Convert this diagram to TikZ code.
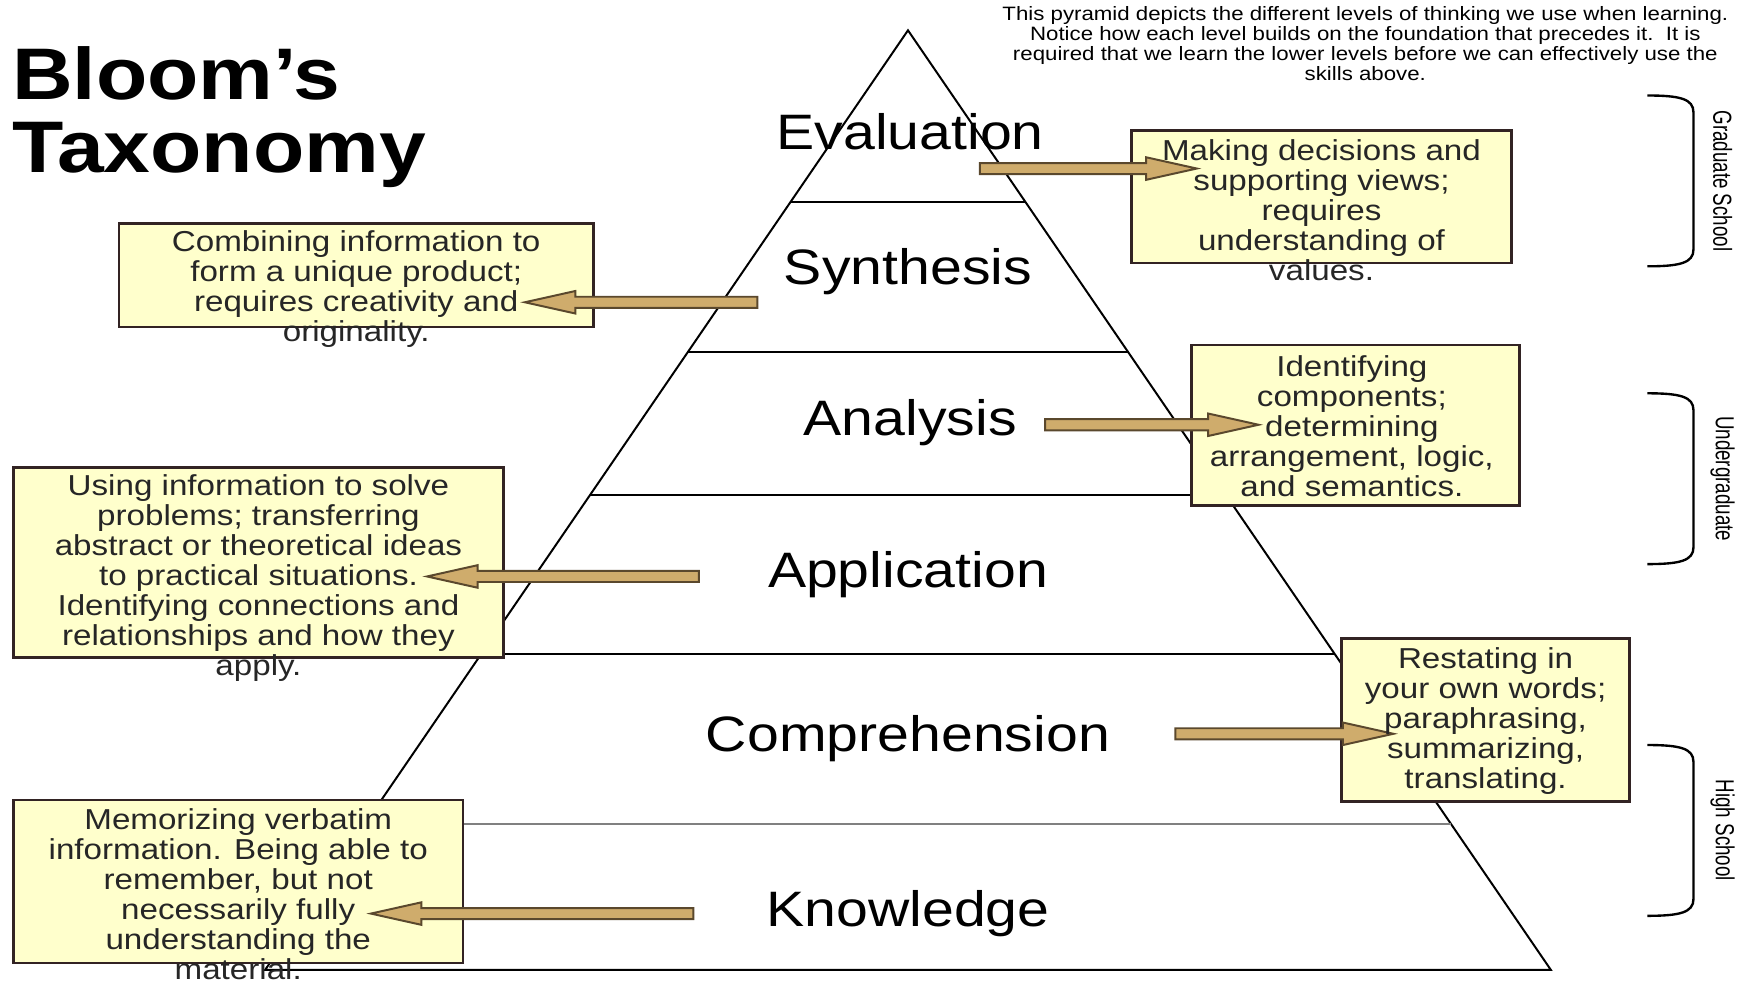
\documentclass[tikz,border=0pt]{standalone}
\usepackage{fontspec}
\setmainfont{Liberation Sans}[FakeStretch=1.15]
\newfontfamily\narrowfont{Liberation Sans}[FakeStretch=0.72]
\usetikzlibrary{positioning,calc}

\definecolor{boxyellow}{RGB}{255,255,204}
\definecolor{boxedge}{RGB}{50,35,35}
\definecolor{arrowtan}{RGB}{207,172,108}
\definecolor{arrowedge}{RGB}{90,72,45}

% block arrow between two named points (horizontal)
\newcommand{\blockarrow}[2]{%
  \filldraw[arrowbody] let \p1=(#1), \p2=(#2), \n1={ifthenelse(\x2>\x1,1,-1)} in
    (\x1,\y1+1.4pt) -- ({\x2-\n1*12.8pt},\y1+1.4pt) -- ({\x2-\n1*12.8pt},\y1+2.85pt)
    -- (\x2,\y1) -- ({\x2-\n1*12.8pt},\y1-2.85pt) -- ({\x2-\n1*12.8pt},\y1-1.4pt)
    -- (\x1,\y1-1.4pt) -- cycle;}

\begin{document}
\begin{tikzpicture}[scale=1.0,
    tier/.style={line width=0.5pt},
    level/.style={font=\fontsize{12.6}{14}\selectfont},
    infobox/.style={draw=boxedge, line width=0.7pt, fill=boxyellow, inner sep=0pt},
    infotext/.style={align=center, inner sep=0pt, text=black!85,
                     font=\fontsize{7.3}{7.6}\selectfont},
    arrowbody/.style={fill=arrowtan, draw=arrowedge, line width=0.5pt},
    bracket/.style={line width=0.6pt}]

    % --- Canvas ---
    \useasboundingbox (0,0) rectangle (15.68,8.75);

    % --- Title ---
    \node[anchor=north west, inner sep=0pt, align=left,
          font=\bfseries\fontsize{18.5}{18.5}\selectfont] (title) at (0.10, 8.34)
          {Bloom's\\Taxonomy};

    % --- Note at the top right ---
    \node[anchor=north, inner sep=0pt, align=center,
          font=\fontsize{4.9}{5.1}\selectfont] (note) at (12.15, 8.70)
          {This pyramid depicts the different levels of thinking we use when learning.\\
           Notice how each level builds on the foundation that precedes it.\ \ It is\\
           required that we learn the lower levels before we can effectively use the\\
           skills above.};

    % --- Pyramid ---
    \coordinate (apex) at (8.08, 8.48);
    \coordinate (bl) at (2.36, 0.12);
    \coordinate (br) at (13.80, 0.12);
    \draw[tier] (bl) -- (apex) -- (br) -- cycle;

    % level lines, as fractions down the sides
    \foreach \t/\c in {0.183/black, 0.342/black, 0.495/black, 0.664/black, 0.845/gray}
        \draw[tier, draw=\c] ($(apex)!\t!(bl)$) -- ($(apex)!\t!(br)$);

    % --- Level names ---
    \node[level] (evaluation) at (8.10, 7.58) {Evaluation};
    \node[level] (synthesis) at (8.08, 6.33) {Synthesis};
    \node[level] (analysis) at (8.10, 4.99) {Analysis};
    \node[level] (application) at (8.08, 3.64) {Application};
    \node[level] (comprehension) at (8.08, 2.18) {Comprehension};
    \node[level] (knowledge) at (8.08, 0.62) {Knowledge};

    % --- Boxes ---
    \node[infobox, minimum width=3.38cm, minimum height=1.18cm] (evalbox) at (11.76, 7.00) {};
    \node[infobox, minimum width=4.22cm, minimum height=0.92cm] (synthbox) at (3.17, 6.30) {};
    \node[infobox, minimum width=2.92cm, minimum height=1.43cm] (analbox) at (12.06, 4.965) {};
    \node[infobox, minimum width=4.36cm, minimum height=1.69cm] (applbox) at (2.30, 3.745) {};
    \node[infobox, minimum width=2.56cm, minimum height=1.45cm] (compbox) at (13.22, 2.345) {};
    \node[infobox, minimum width=4.00cm, minimum height=1.45cm] (knowbox) at (2.12, 0.905) {};

    % --- Arrows ---
    \coordinate (evalfrom) at (8.72, 7.25);   \coordinate (evalto) at (10.65, 7.25);
    \coordinate (synthfrom) at (6.74, 6.06);  \coordinate (synthto) at (4.67, 6.06);
    \coordinate (analfrom) at (9.30, 4.97);   \coordinate (analto) at (11.20, 4.97);
    \coordinate (applfrom) at (6.22, 3.62);   \coordinate (applto) at (3.80, 3.62);
    \coordinate (compfrom) at (10.46, 2.22);  \coordinate (compto) at (12.40, 2.22);
    \coordinate (knowfrom) at (6.17, 0.62);   \coordinate (knowto) at (3.30, 0.62);
    \blockarrow{evalfrom}{evalto}
    \blockarrow{synthfrom}{synthto}
    \blockarrow{analfrom}{analto}
    \blockarrow{applfrom}{applto}
    \blockarrow{compfrom}{compto}
    \blockarrow{knowfrom}{knowto}

    % --- Box texts (they run past the bottom edge) ---
    \node[infotext, below=0.09cm of evalbox.north] (evaltext)
        {Making decisions and\\supporting views;\\requires\\understanding of\\values.};
    \node[infotext, below=0.07cm of synthbox.north] (synthtext)
        {Combining information to\\form a unique product;\\requires creativity and\\originality.};
    \node[infotext, below=0.10cm of analbox.north, xshift=-0.03cm] (analtext)
        {Identifying\\components;\\determining\\arrangement, logic,\\and semantics.};
    \node[infotext, below=0.07cm of applbox.north] (appltext)
        {Using information to solve\\problems; transferring\\abstract or theoretical ideas\\to practical situations.\\Identifying connections and\\relationships and how they\\apply.};
    \node[infotext, below=0.09cm of compbox.north] (comptext)
        {Restating in\\your own words;\\paraphrasing,\\summarizing,\\translating.};
    \node[infotext, below=0.08cm of knowbox.north] (knowtext)
        {Memorizing verbatim\\information. Being able to\\remember, but not\\necessarily fully\\understanding the\\material.};

    % --- Brackets on the right ---
    \foreach \top/\bot/\name in {7.90/6.38/Graduate School, 5.25/3.73/Undergraduate, 2.12/0.60/High School} {
        \draw[bracket] (14.66,\top) .. controls (14.95,\top) and (15.07,\top-0.03) .. (15.07,\top-0.15)
            -- (15.07,\bot+0.15) .. controls (15.07,\bot+0.03) and (14.95,\bot) .. (14.66,\bot);
        \node[rotate=-90, inner sep=0pt, font=\narrowfont\fontsize{6.6}{7}\selectfont]
            at (15.33, {(\top+\bot)/2}) {\name};
    }

\end{tikzpicture}
\end{document}
